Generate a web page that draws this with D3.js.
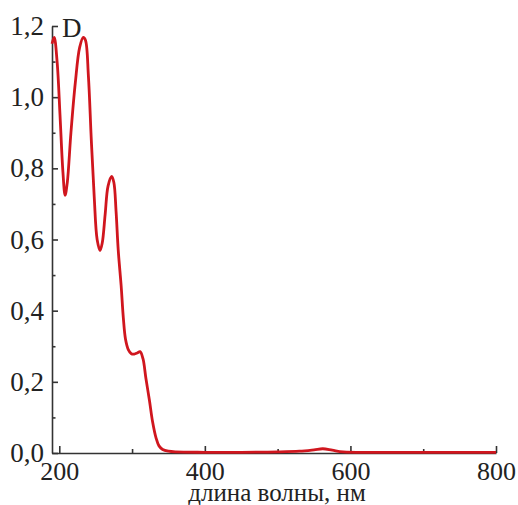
<!DOCTYPE html>
<html>
<head>
<meta charset="utf-8">
<script src="https://cdn.jsdelivr.net/npm/d3@7/dist/d3.min.js"></script>
<style>
  html, body { margin: 0; padding: 0; background: #fff; }
  svg text { font-family: "Liberation Serif", "DejaVu Serif", serif; fill: #222; }
</style>
</head>
<body>
<div id="chart"></div>
<script>
// wavelength, nm
var wavelength = [190, 193, 197, 201, 205, 208, 211, 216, 222, 228, 233, 236, 240, 244, 248, 252, 256,
  259, 263, 267, 272, 275, 278, 281, 285, 288, 291, 295, 299, 303, 307, 311, 315, 319, 324, 328,
  333, 337, 342, 350, 360, 400, 450, 500, 530, 550, 562, 575, 590, 650, 700, 800];
// optical density D
var density = [1.15, 1.168, 1.10, 0.95, 0.79, 0.724, 0.76, 0.90, 1.04, 1.14, 1.168, 1.16, 1.06, 0.88, 0.72, 0.60, 0.569,
  0.59, 0.67, 0.75, 0.777, 0.76, 0.68, 0.57, 0.47, 0.38, 0.32, 0.29, 0.279, 0.278, 0.281, 0.285, 0.265, 0.21, 0.146, 0.09,
  0.042, 0.02, 0.01, 0.005, 0.003, 0.002, 0.002, 0.003, 0.005, 0.009, 0.012, 0.008, 0.003, 0.002, 0.002, 0.002];

var xMajor = [200, 400, 600, 800];
var xMinor = [300, 500, 700];
var yMajor = [0, 0.2, 0.4, 0.6, 0.8, 1.0, 1.2];
var yMinor = [0.1, 0.3, 0.5, 0.7, 0.9, 1.1];

var xTitle = 'длина волны, нм',
  yTitle = 'D';

var width = 518,
  height = 505;

var lineColor = '#d0161e',
  axisColor = '#333';

var svg = d3.select('#chart').append('svg').attr('width', width).attr('height', height);

var x = d3.scaleLinear().domain([190, 800]).range([52, 496]);
var y = d3.scaleLinear().domain([0, 1.2]).range([453, 26]);

var fmt = function(d) { return d3.format('.1f')(d).replace('.', ','); };

// y axis
var yAxis = svg.append('g').attr('transform', 'translate(' + x.range()[0] + ',0)');
yAxis.call(d3.axisLeft(y).tickValues(yMajor).tickSizeInner(-6).tickSizeOuter(0).tickPadding(8).tickFormat(fmt));
yAxis.append('g').call(d3.axisLeft(y).tickValues(yMinor).tickSizeInner(-3.5).tickSizeOuter(0).tickFormat(''))
  .select('.domain').remove();

// x axis
var xAxis = svg.append('g').attr('transform', 'translate(0,' + y.range()[0] + ')');
xAxis.call(d3.axisBottom(x).tickValues(xMajor).tickSizeInner(-7).tickSizeOuter(0).tickPadding(9).tickFormat(d3.format('d')));
xAxis.append('g').call(d3.axisBottom(x).tickValues(xMinor).tickSizeInner(-4).tickSizeOuter(0).tickFormat(''))
  .select('.domain').remove();

svg.selectAll('.domain, .tick line').attr('stroke', axisColor).attr('stroke-width', 1.6);
svg.selectAll('.tick text').attr('font-size', 27).attr('font-family', '"Liberation Serif", serif').attr('fill', '#222');
xAxis.selectAll('.tick text').attr('font-size', 26).attr('dy', '0.71em');

// titles
svg.append('text')
  .attr('x', 62)
  .attr('y', 37)
  .attr('font-size', 27)
  .text(yTitle);

svg.append('text')
  .attr('x', 277)
  .attr('y', 501)
  .attr('text-anchor', 'middle')
  .attr('font-size', 25)
  .text(xTitle);

// spectrum
var points = wavelength.map(function(w, i) { return [w, density[i]]; });

var line = d3.line()
  .x(function(d) { return x(d[0]); })
  .y(function(d) { return y(d[1]); })
  .curve(d3.curveCatmullRom.alpha(0.5));

svg.append('path')
  .datum(points)
  .attr('d', line)
  .attr('stroke', lineColor)
  .attr('stroke-width', 2.8)
  .attr('stroke-linejoin', 'round')
  .attr('fill', 'none');
</script>
</body>
</html>
